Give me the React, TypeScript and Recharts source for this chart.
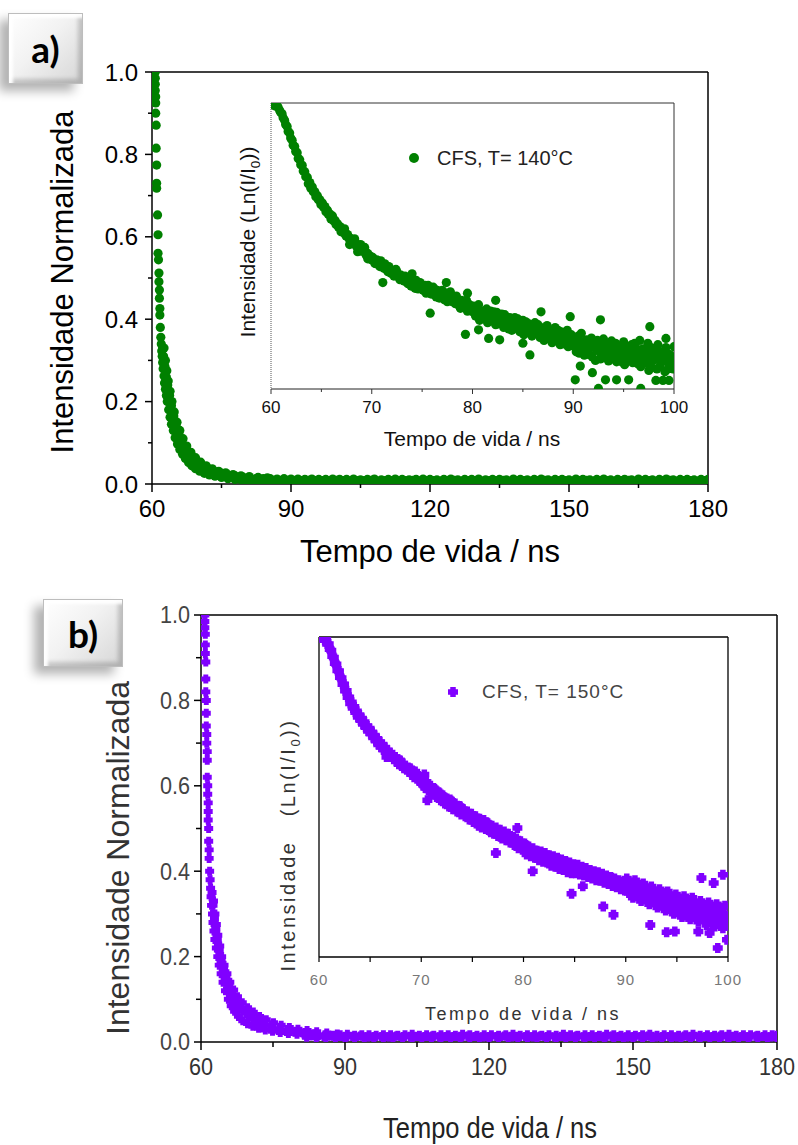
import { ScatterChart, Scatter, XAxis, YAxis, ReferenceLine } from 'recharts';

const GREEN = '#008000';
const VIOLET = '#8000ff';
const SANS = "'Liberation Sans', Arial, Helvetica, sans-serif";

// axis ticks
const mainTicksX = [60, 75, 90, 105, 120, 135, 150, 165, 180];
const mainMajorX = [60, 90, 120, 150, 180];
const mainTicksY = [0, 0.1, 0.2, 0.3, 0.4, 0.5, 0.6, 0.7, 0.8, 0.9, 1.0];
const mainMajorY = [0, 0.2, 0.4, 0.6, 0.8, 1.0];
const insetTicksX = [60, 65, 70, 75, 80, 85, 90, 95, 100];
const insetMajorX = [60, 70, 80, 90, 100];

// ---- a) CFS 140 °C, main plot (time ns, normalised intensity) ----
const mainADecay: [number, number][] = [
  [60.7, 1.0], [60.7, 0.985], [60.7, 0.97], [60.7, 0.955], [60.8, 0.94], [60.8, 0.925], [60.8, 0.9],
  [60.9, 0.871], [60.9, 0.815], [61.0, 0.774], [61.0, 0.73], [61.0, 0.718], [61.2, 0.653], [61.3, 0.605],
  [61.3, 0.56], [61.4, 0.544], [61.5, 0.512], [61.5, 0.491], [61.6, 0.471], [61.6, 0.451], [61.7, 0.426],
  [61.7, 0.41], [61.8, 0.38], [61.9, 0.356], [62.0, 0.34], [62.1, 0.323], [62.2, 0.31], [62.3, 0.295],
  [62.4, 0.28], [62.6, 0.262], [62.7, 0.245], [62.9, 0.23], [63.1, 0.215], [63.3, 0.2], [63.6, 0.18],
  [63.9, 0.162], [64.2, 0.145], [64.6, 0.13], [65.0, 0.112], [65.5, 0.097], [66.0, 0.084], [66.6, 0.072],
  [67.2, 0.062], [67.9, 0.052], [68.6, 0.044], [69.4, 0.037], [70.3, 0.031], [71.3, 0.026], [72.4, 0.022],
  [73.6, 0.019], [75.0, 0.016], [76.4, 0.013], [77.9, 0.011],
];
const mainAMiddle: [number, number][] = [
  [62.3, 0.33], [62.5, 0.31], [62.8, 0.285], [63.1, 0.26], [63.4, 0.24], [63.8, 0.215], [64.2, 0.19],
  [64.7, 0.165], [65.2, 0.142], [65.8, 0.122], [66.4, 0.104], [67.1, 0.088], [67.9, 0.074], [68.8, 0.062],
  [69.8, 0.052], [70.9, 0.044], [72.1, 0.037], [73.4, 0.031], [74.8, 0.027], [76.3, 0.023], [77.9, 0.02],
  [79.6, 0.017],
];
const mainAOuter: [number, number][] = [
  [62.6, 0.33], [62.9, 0.3], [63.2, 0.275], [63.5, 0.25], [63.9, 0.225], [64.3, 0.2], [64.8, 0.175],
  [65.4, 0.15], [66.0, 0.13], [66.7, 0.11], [67.5, 0.092], [68.4, 0.077], [69.4, 0.064], [70.5, 0.053],
  [71.7, 0.044], [73.0, 0.037], [74.4, 0.031], [75.9, 0.027], [77.5, 0.023], [79.2, 0.02], [81.0, 0.018],
  [82.9, 0.016], [84.9, 0.015],
];
const mainATailHigh: [number, number][] = [
  [78, 0.016], [79.5, 0.015], [81, 0.014], [82.5, 0.014], [84, 0.013], [85.5, 0.013], [87, 0.012],
  [88.5, 0.013], [90, 0.012], [91.5, 0.012], [93, 0.011], [94.5, 0.012], [96, 0.011], [97.5, 0.011],
  [99, 0.012], [100.5, 0.011], [102, 0.011], [103.5, 0.012], [105, 0.01], [106.5, 0.011], [108, 0.012],
  [109.5, 0.01], [111, 0.011], [112.5, 0.012], [114, 0.011], [115.5, 0.01], [117, 0.011], [118.5, 0.012],
  [120, 0.011], [121.5, 0.01], [123, 0.011], [124.5, 0.012], [126, 0.01], [127.5, 0.011], [129, 0.011],
  [130.5, 0.012], [132, 0.01], [133.5, 0.011], [135, 0.011], [136.5, 0.01], [138, 0.012], [139.5, 0.011],
  [141, 0.01], [142.5, 0.011], [144, 0.012], [145.5, 0.01], [147, 0.011], [148.5, 0.011], [150, 0.01],
  [151.5, 0.012], [153, 0.011], [154.5, 0.01], [156, 0.011], [157.5, 0.012], [159, 0.01], [160.5, 0.011],
  [162, 0.011], [163.5, 0.01], [165, 0.012], [166.5, 0.011], [168, 0.01], [169.5, 0.011], [171, 0.012],
  [172.5, 0.01], [174, 0.011], [175.5, 0.011], [177, 0.01], [178.5, 0.011], [180, 0.011],
];
const mainATailMid: [number, number][] = [
  [78.8, 0.012], [80.3, 0.011], [81.8, 0.01], [83.3, 0.009], [84.8, 0.009], [86.3, 0.009], [87.8, 0.008],
  [89.3, 0.009], [90.8, 0.008], [92.3, 0.008], [93.8, 0.009], [95.3, 0.008], [96.8, 0.008], [98.3, 0.008],
  [99.8, 0.009], [101.3, 0.008], [102.8, 0.007], [104.3, 0.008], [105.8, 0.008], [107.3, 0.009],
  [108.8, 0.007], [110.3, 0.008], [111.8, 0.008], [113.3, 0.007], [114.8, 0.008], [116.3, 0.009],
  [117.8, 0.007], [119.3, 0.008], [120.8, 0.008], [122.3, 0.007], [123.8, 0.008], [125.3, 0.009],
  [126.8, 0.007], [128.3, 0.008], [129.8, 0.008], [131.3, 0.007], [132.8, 0.008], [134.3, 0.008],
  [135.8, 0.009], [137.3, 0.007], [138.8, 0.008], [140.3, 0.008], [141.8, 0.007], [143.3, 0.008],
  [144.8, 0.009], [146.3, 0.007], [147.8, 0.008], [149.3, 0.008], [150.8, 0.007], [152.3, 0.008],
  [153.8, 0.009], [155.3, 0.007], [156.8, 0.008], [158.3, 0.008], [159.8, 0.007], [161.3, 0.008],
  [162.8, 0.009], [164.3, 0.007], [165.8, 0.008], [167.3, 0.008], [168.8, 0.007], [170.3, 0.008],
  [171.8, 0.009], [173.3, 0.007], [174.8, 0.008], [176.3, 0.008], [177.8, 0.007], [179.3, 0.008],
];
const mainATailLow: [number, number][] = [
  [79.5, 0.009], [81, 0.008], [82.5, 0.007], [84, 0.006], [85.5, 0.006], [87, 0.005], [88.5, 0.005],
  [90, 0.005], [92, 0.004], [94, 0.005], [96, 0.004], [98, 0.005], [100, 0.004], [102, 0.005], [104, 0.004],
  [106, 0.004], [108, 0.005], [110, 0.004], [112, 0.005], [114, 0.004], [116, 0.004], [118, 0.005],
  [120, 0.004], [122, 0.005], [124, 0.004], [126, 0.004], [128, 0.005], [130, 0.004], [132, 0.005],
  [134, 0.004], [136, 0.004], [138, 0.005], [140, 0.004], [142, 0.005], [144, 0.004], [146, 0.004],
  [148, 0.005], [150, 0.004], [152, 0.005], [154, 0.004], [156, 0.004], [158, 0.005], [160, 0.004],
  [162, 0.005], [164, 0.004], [166, 0.004], [168, 0.005], [170, 0.004], [172, 0.005], [174, 0.004],
  [176, 0.004], [178, 0.005], [180, 0.004],
];

// ---- a) inset, 60–100 ns (log intensity, arbitrary units) ----
const insetAEarly: [number, number][] = [
  [60.2, 1.0], [60.45, 0.995], [60.7, 0.985], [60.95, 0.968], [61.2, 0.948], [61.45, 0.925], [61.7, 0.9],
  [61.95, 0.878], [62.2, 0.852], [62.45, 0.83], [62.7, 0.806], [62.95, 0.784], [63.2, 0.762], [63.45, 0.742],
  [63.7, 0.718], [63.95, 0.702], [64.2, 0.69], [64.45, 0.672], [64.7, 0.662], [64.95, 0.645], [65.2, 0.636],
  [65.45, 0.62], [65.7, 0.61], [65.95, 0.594], [66.2, 0.588], [66.45, 0.575], [66.7, 0.566], [66.95, 0.55],
  [67.2, 0.546], [67.45, 0.535], [67.7, 0.528], [67.95, 0.514], [68.2, 0.512], [68.45, 0.5], [68.7, 0.496],
  [68.95, 0.482], [69.2, 0.484], [69.45, 0.468], [69.7, 0.466], [69.95, 0.452], [66.1, 0.605], [67.3, 0.56],
  [68.3, 0.525], [68.6, 0.48], [69.3, 0.495], [69.6, 0.455], [68.9, 0.505], [67.8, 0.505],
];
const insetAEarly2: [number, number][] = [
  [60.35, 0.99], [60.6, 0.99], [60.85, 0.975], [61.1, 0.962], [61.35, 0.94], [61.6, 0.918], [61.85, 0.895],
  [62.1, 0.87], [62.35, 0.848], [62.6, 0.826], [62.85, 0.802], [63.1, 0.782], [63.35, 0.76], [63.6, 0.74],
  [63.85, 0.722], [64.1, 0.706], [64.35, 0.69], [64.6, 0.676], [64.85, 0.662], [65.1, 0.65], [65.35, 0.638],
  [65.6, 0.625], [65.85, 0.612], [66.1, 0.598], [66.35, 0.59], [66.6, 0.578], [66.85, 0.568], [67.1, 0.558],
  [67.35, 0.548], [67.6, 0.54], [67.85, 0.528], [68.1, 0.52], [68.35, 0.512], [68.6, 0.505], [68.85, 0.494],
  [69.1, 0.49], [69.35, 0.478], [69.6, 0.474], [69.85, 0.465],
];
const insetAMid: [number, number][] = [
  [70.1, 0.46], [70.3, 0.44], [70.5, 0.452], [70.7, 0.435], [70.9, 0.448], [71.1, 0.43], [71.3, 0.438],
  [71.5, 0.418], [71.7, 0.428], [71.9, 0.405], [72.1, 0.415], [72.3, 0.4], [72.5, 0.41], [72.7, 0.39],
  [72.9, 0.398], [73.1, 0.385], [73.3, 0.395], [73.5, 0.372], [73.7, 0.385], [73.9, 0.36], [74.1, 0.378],
  [74.3, 0.352], [74.5, 0.372], [74.7, 0.355], [74.9, 0.365], [75.1, 0.345], [75.3, 0.362], [75.5, 0.34],
  [75.7, 0.35], [75.9, 0.332], [76.1, 0.356], [76.3, 0.328], [76.5, 0.345], [76.7, 0.318], [76.9, 0.338],
  [77.1, 0.322], [77.3, 0.335], [77.5, 0.305], [77.7, 0.33], [77.9, 0.31], [78.1, 0.322], [78.3, 0.298],
  [78.5, 0.315], [78.7, 0.29], [78.9, 0.31], [79.1, 0.285], [79.3, 0.3], [79.5, 0.272], [79.7, 0.295],
  [79.9, 0.28],
];
const insetALate: [number, number][] = [
  [80.1, 0.29], [80.3, 0.255], [80.5, 0.28], [80.7, 0.24], [80.9, 0.272], [81.1, 0.25], [81.3, 0.265],
  [81.5, 0.232], [81.7, 0.26], [81.9, 0.238], [82.1, 0.27], [82.3, 0.225], [82.5, 0.252], [82.7, 0.23],
  [82.9, 0.262], [83.1, 0.215], [83.3, 0.245], [83.5, 0.222], [83.7, 0.25], [83.9, 0.205], [84.1, 0.238],
  [84.3, 0.212], [84.5, 0.245], [84.7, 0.2], [84.9, 0.228], [85.1, 0.19], [85.3, 0.235], [85.5, 0.205],
  [85.7, 0.222], [85.9, 0.185], [86.1, 0.215], [86.3, 0.195], [86.5, 0.225], [86.7, 0.18], [86.9, 0.205],
  [87.1, 0.17], [87.3, 0.21], [87.5, 0.185], [87.7, 0.2], [87.9, 0.162], [88.1, 0.195], [88.3, 0.172],
  [88.5, 0.205], [88.7, 0.155], [88.9, 0.185], [89.1, 0.165], [89.3, 0.19], [89.5, 0.148], [89.7, 0.178],
  [89.9, 0.158], [90.1, 0.17], [90.3, 0.13], [90.5, 0.185], [90.7, 0.145], [90.9, 0.165], [91.1, 0.118],
  [91.3, 0.172], [91.5, 0.14], [91.7, 0.158], [91.9, 0.112], [92.1, 0.165], [92.3, 0.135], [92.5, 0.152],
  [92.7, 0.105], [92.9, 0.16], [93.1, 0.125], [93.3, 0.145], [93.5, 0.098], [93.7, 0.155], [93.9, 0.12],
  [94.1, 0.14], [94.3, 0.095], [94.5, 0.15], [94.7, 0.115], [94.9, 0.135], [95.1, 0.085], [95.3, 0.148],
  [95.5, 0.112], [95.7, 0.13], [95.9, 0.092], [96.1, 0.16], [96.3, 0.105], [96.5, 0.135], [96.7, 0.078],
  [96.9, 0.14], [97.1, 0.1], [97.3, 0.125], [97.5, 0.065], [97.7, 0.145], [97.9, 0.1], [98.1, 0.12],
  [98.3, 0.07], [98.5, 0.13], [98.7, 0.092], [98.9, 0.115], [99.1, 0.06], [99.3, 0.125], [99.5, 0.085],
  [99.7, 0.105], [99.9, 0.07],
];
const insetAFill: [number, number][] = [
  [70.0, 0.455], [70.2, 0.448], [70.4, 0.438], [70.6, 0.445], [70.8, 0.428], [71.0, 0.44], [71.2, 0.422],
  [71.4, 0.43], [71.6, 0.41], [71.8, 0.42], [72.0, 0.41], [72.2, 0.395], [72.4, 0.418], [72.6, 0.4],
  [72.8, 0.382], [73.0, 0.392], [73.2, 0.378], [73.4, 0.386], [73.6, 0.368], [73.8, 0.39], [74.0, 0.37],
  [74.2, 0.362], [74.4, 0.38], [74.6, 0.35], [74.8, 0.372], [75.0, 0.358], [75.2, 0.35], [75.4, 0.335],
  [75.6, 0.362], [75.8, 0.345], [76.0, 0.34], [76.2, 0.35], [76.4, 0.322], [76.6, 0.338], [76.8, 0.33],
  [77.0, 0.345], [77.2, 0.312], [77.4, 0.325], [77.6, 0.318], [77.8, 0.34], [78.0, 0.305], [78.2, 0.31],
  [78.4, 0.325], [78.6, 0.3], [78.8, 0.282], [79.0, 0.305], [79.2, 0.295], [79.4, 0.31], [79.6, 0.278],
  [79.8, 0.29], [80.0, 0.27], [80.2, 0.285], [80.4, 0.262], [80.6, 0.295], [80.8, 0.258], [81.0, 0.268],
  [81.2, 0.245], [81.4, 0.28], [81.6, 0.25], [81.8, 0.272], [82.0, 0.24], [82.2, 0.258], [82.4, 0.268],
  [82.6, 0.228], [82.8, 0.245], [83.0, 0.236], [83.2, 0.26], [83.4, 0.232], [83.6, 0.21], [83.8, 0.235],
  [84.0, 0.225], [84.2, 0.25], [84.4, 0.218], [84.6, 0.232], [84.8, 0.208], [85.0, 0.24], [85.2, 0.215],
  [85.4, 0.198], [85.6, 0.228], [85.8, 0.21], [86.0, 0.195], [86.2, 0.232], [86.4, 0.205], [86.6, 0.19],
  [86.8, 0.215], [87.0, 0.2], [87.2, 0.178], [87.4, 0.222], [87.6, 0.195], [87.8, 0.175], [88.0, 0.19],
  [88.2, 0.215], [88.4, 0.168], [88.6, 0.185], [88.8, 0.2], [89.0, 0.158], [89.2, 0.18], [89.4, 0.205],
  [89.6, 0.165], [89.8, 0.19], [90.0, 0.15], [90.2, 0.178], [90.4, 0.16], [90.6, 0.125], [90.8, 0.195],
  [91.0, 0.15], [91.2, 0.135], [91.4, 0.165], [91.6, 0.12], [91.8, 0.178], [92.0, 0.148], [92.2, 0.1],
  [92.4, 0.17], [92.6, 0.138], [92.8, 0.12], [93.0, 0.175], [93.2, 0.11], [93.4, 0.155], [93.6, 0.13],
  [93.8, 0.168], [94.0, 0.105], [94.2, 0.16], [94.4, 0.125], [94.6, 0.14], [94.8, 0.095], [95.0, 0.165],
  [95.2, 0.12], [95.4, 0.138], [95.6, 0.1], [95.8, 0.155], [96.0, 0.118], [96.2, 0.145], [96.4, 0.088],
  [96.6, 0.17], [96.8, 0.112], [97.0, 0.132], [97.2, 0.09], [97.4, 0.16], [97.6, 0.118], [97.8, 0.075],
  [98.0, 0.14], [98.2, 0.105], [98.4, 0.155], [98.6, 0.08], [98.8, 0.13], [99.0, 0.1], [99.2, 0.145],
  [99.4, 0.07], [99.6, 0.12], [99.8, 0.09],
];
const insetAOutliers: [number, number][] = [
  [71.1, 0.372], [74.0, 0.403], [75.8, 0.265], [77.4, 0.372], [79.3, 0.191], [79.5, 0.335], [80.6, 0.207],
  [81.6, 0.177], [82.3, 0.31], [82.7, 0.172], [85.0, 0.16], [85.7, 0.119], [86.8, 0.27], [89.7, 0.253],
  [90.2, 0.032], [90.7, 0.08], [91.9, 0.057], [92.5, 0.002], [92.7, 0.242], [93.2, 0.032], [94.3, 0.032],
  [95.5, 0.032], [96.7, 0.002], [97.6, 0.218], [98.2, 0.03], [98.9, 0.03], [99.2, 0.177], [99.5, 0.03],
  [100, 0.148],
];

// ---- b) CFS 150 °C, main plot ----
const mainBDecay: [number, number][] = [
  [60.8, 1.0], [60.8, 0.985], [60.8, 0.97], [60.9, 0.955], [60.9, 0.93], [60.9, 0.91], [61.0, 0.89],
  [61.0, 0.85], [61.0, 0.82], [61.1, 0.8], [61.1, 0.77], [61.1, 0.74], [61.2, 0.72], [61.2, 0.7],
  [61.3, 0.68], [61.3, 0.66], [61.3, 0.62], [61.4, 0.6], [61.4, 0.58], [61.5, 0.56], [61.5, 0.54],
  [61.5, 0.52], [61.6, 0.5], [61.6, 0.47], [61.7, 0.45], [61.7, 0.43], [61.8, 0.4], [61.9, 0.38],
  [62.0, 0.36], [62.1, 0.34], [62.2, 0.32], [62.4, 0.3], [62.5, 0.28], [62.7, 0.26], [62.9, 0.24],
  [63.2, 0.22], [63.5, 0.2], [63.8, 0.18], [64.2, 0.16], [64.6, 0.14], [65.1, 0.12], [65.7, 0.1],
  [66.3, 0.085], [67.0, 0.072], [67.8, 0.06], [68.7, 0.05], [69.7, 0.043], [70.8, 0.037], [72.0, 0.032],
  [73.4, 0.028], [74.9, 0.025], [76.5, 0.022], [78.2, 0.02], [80.0, 0.018],
];
const mainBMiddle: [number, number][] = [
  [62.3, 0.35], [62.5, 0.32], [62.8, 0.29], [63.1, 0.265], [63.4, 0.24], [63.8, 0.215], [64.2, 0.19],
  [64.7, 0.17], [65.2, 0.15], [65.8, 0.13], [66.4, 0.113], [67.1, 0.098], [67.9, 0.084], [68.8, 0.072],
  [69.8, 0.062], [70.9, 0.053], [72.1, 0.046], [73.4, 0.04], [74.8, 0.035], [76.3, 0.031], [77.9, 0.027],
  [79.6, 0.024], [81.4, 0.021], [83.3, 0.019],
];
const mainBOuter: [number, number][] = [
  [62.6, 0.33], [62.9, 0.3], [63.2, 0.275], [63.5, 0.25], [63.9, 0.225], [64.3, 0.2], [64.8, 0.18],
  [65.4, 0.16], [66.0, 0.14], [66.8, 0.122], [67.6, 0.106], [68.6, 0.092], [69.7, 0.08], [70.9, 0.07],
  [72.2, 0.06], [73.6, 0.052], [75.1, 0.045], [76.7, 0.039], [78.4, 0.034], [80.2, 0.03], [82.1, 0.027],
  [84.1, 0.024], [86.2, 0.021], [88.4, 0.019],
];
const mainBTailHigh: [number, number][] = [
  [81.5, 0.017], [83, 0.017], [84.5, 0.016], [86, 0.017], [87.5, 0.016], [89, 0.017], [90.5, 0.018],
  [92, 0.016], [93.5, 0.017], [95, 0.017], [96.5, 0.016], [98, 0.017], [99.5, 0.017], [101, 0.016],
  [102.5, 0.017], [104, 0.018], [105.5, 0.016], [107, 0.017], [108.5, 0.016], [110, 0.017], [111.5, 0.017],
  [113, 0.016], [114.5, 0.018], [116, 0.017], [117.5, 0.016], [119, 0.017], [120.5, 0.017], [122, 0.016],
  [123.5, 0.017], [125, 0.018], [126.5, 0.016], [128, 0.017], [129.5, 0.017], [131, 0.016], [132.5, 0.017],
  [134, 0.016], [135.5, 0.018], [137, 0.017], [138.5, 0.016], [140, 0.017], [141.5, 0.017], [143, 0.016],
  [144.5, 0.018], [146, 0.017], [147.5, 0.016], [149, 0.017], [150.5, 0.016], [152, 0.017], [153.5, 0.018],
  [155, 0.016], [156.5, 0.017], [158, 0.017], [159.5, 0.016], [161, 0.017], [162.5, 0.018], [164, 0.016],
  [165.5, 0.017], [167, 0.016], [168.5, 0.017], [170, 0.018], [171.5, 0.016], [173, 0.017], [174.5, 0.017],
  [176, 0.016], [177.5, 0.017], [179, 0.017], [180, 0.016],
];
const mainBTailMid: [number, number][] = [
  [82.7, 0.014], [84.2, 0.013], [85.7, 0.013], [87.2, 0.014], [88.7, 0.013], [90.2, 0.012], [91.7, 0.013],
  [93.2, 0.014], [94.7, 0.012], [96.2, 0.013], [97.7, 0.013], [99.2, 0.012], [100.7, 0.014], [102.2, 0.013],
  [103.7, 0.012], [105.2, 0.013], [106.7, 0.013], [108.2, 0.014], [109.7, 0.012], [111.2, 0.013],
  [112.7, 0.013], [114.2, 0.012], [115.7, 0.014], [117.2, 0.013], [118.7, 0.012], [120.2, 0.013],
  [121.7, 0.013], [123.2, 0.014], [124.7, 0.012], [126.2, 0.013], [127.7, 0.013], [129.2, 0.012],
  [130.7, 0.014], [132.2, 0.013], [133.7, 0.012], [135.2, 0.013], [136.7, 0.013], [138.2, 0.014],
  [139.7, 0.012], [141.2, 0.013], [142.7, 0.013], [144.2, 0.012], [145.7, 0.014], [147.2, 0.013],
  [148.7, 0.012], [150.2, 0.013], [151.7, 0.013], [153.2, 0.014], [154.7, 0.012], [156.2, 0.013],
  [157.7, 0.013], [159.2, 0.012], [160.7, 0.014], [162.2, 0.013], [163.7, 0.012], [165.2, 0.013],
  [166.7, 0.013], [168.2, 0.014], [169.7, 0.012], [171.2, 0.013], [172.7, 0.013], [174.2, 0.012],
  [175.7, 0.014], [177.2, 0.013], [178.7, 0.012], [179.8, 0.013],
];
const mainBTailLow: [number, number][] = [
  [82, 0.011], [84, 0.01], [86, 0.009], [88, 0.009], [90, 0.008], [92, 0.008], [94, 0.009], [96, 0.008],
  [98, 0.008], [100, 0.009], [102, 0.008], [104, 0.008], [106, 0.009], [108, 0.008], [110, 0.008],
  [112, 0.009], [114, 0.008], [116, 0.008], [118, 0.009], [120, 0.008], [122, 0.008], [124, 0.009],
  [126, 0.008], [128, 0.008], [130, 0.009], [132, 0.008], [134, 0.008], [136, 0.009], [138, 0.008],
  [140, 0.008], [142, 0.009], [144, 0.008], [146, 0.008], [148, 0.009], [150, 0.008], [152, 0.008],
  [154, 0.009], [156, 0.008], [158, 0.008], [160, 0.009], [162, 0.008], [164, 0.008], [166, 0.009],
  [168, 0.008], [170, 0.008], [172, 0.009], [174, 0.008], [176, 0.008], [178, 0.009], [180, 0.008],
];

// ---- b) inset, 60–100 ns ----
const insetBEarly: [number, number][] = [
  [60.3, 0.998], [60.55, 0.99], [60.8, 0.978], [61.05, 0.962], [61.3, 0.94], [61.55, 0.918], [61.8, 0.895],
  [62.05, 0.874], [62.3, 0.852], [62.55, 0.832], [62.8, 0.812], [63.05, 0.792], [63.3, 0.778], [63.55, 0.765],
  [63.8, 0.75], [64.05, 0.74], [64.3, 0.728], [64.55, 0.718], [64.8, 0.706], [65.05, 0.698], [65.3, 0.686],
  [65.55, 0.676], [65.8, 0.664], [66.05, 0.656], [66.3, 0.648], [66.55, 0.64], [66.8, 0.63], [67.05, 0.626],
  [67.3, 0.618], [67.55, 0.612], [67.8, 0.602], [68.05, 0.6], [68.3, 0.59], [68.55, 0.588], [68.8, 0.578],
  [69.05, 0.574], [69.3, 0.562], [69.55, 0.568], [69.8, 0.55], [66.6, 0.625], [67.9, 0.615], [68.9, 0.59],
  [69.4, 0.58],
];
const insetBEarly2: [number, number][] = [
  [60.45, 1.0], [60.7, 0.992], [60.95, 0.978], [61.2, 0.958], [61.45, 0.936], [61.7, 0.915], [61.95, 0.894],
  [62.2, 0.872], [62.45, 0.852], [62.7, 0.832], [62.95, 0.812], [63.2, 0.796], [63.45, 0.782], [63.7, 0.768],
  [63.95, 0.756], [64.2, 0.745], [64.45, 0.734], [64.7, 0.722], [64.95, 0.714], [65.2, 0.702], [65.45, 0.692],
  [65.7, 0.682], [65.95, 0.672], [66.2, 0.664], [66.45, 0.655], [66.7, 0.646], [66.95, 0.638], [67.2, 0.632],
  [67.45, 0.625], [67.7, 0.618], [67.95, 0.612], [68.2, 0.605], [68.45, 0.598], [68.7, 0.592], [68.95, 0.586],
  [69.2, 0.58], [69.45, 0.572], [69.7, 0.566], [69.95, 0.558],
];
const insetBMid: [number, number][] = [
  [70.1, 0.55], [70.3, 0.535], [70.5, 0.548], [70.7, 0.52], [70.9, 0.535], [71.1, 0.512], [71.3, 0.525],
  [71.5, 0.5], [71.7, 0.515], [71.9, 0.49], [72.1, 0.505], [72.3, 0.48], [72.5, 0.495], [72.7, 0.47],
  [72.9, 0.488], [73.1, 0.462], [73.3, 0.48], [73.5, 0.455], [73.7, 0.472], [73.9, 0.445], [74.1, 0.462],
  [74.3, 0.44], [74.5, 0.455], [74.7, 0.43], [74.9, 0.448], [75.1, 0.422], [75.3, 0.44], [75.5, 0.418],
  [75.7, 0.432], [75.9, 0.405], [76.1, 0.428], [76.3, 0.4], [76.5, 0.418], [76.7, 0.395], [76.9, 0.41],
  [77.1, 0.385], [77.3, 0.405], [77.5, 0.378], [77.7, 0.398], [77.9, 0.37], [78.1, 0.392], [78.3, 0.365],
  [78.5, 0.385], [78.7, 0.358], [78.9, 0.375], [79.1, 0.35], [79.3, 0.37], [79.5, 0.34], [79.7, 0.362],
  [79.9, 0.335],
];
const insetBLate: [number, number][] = [
  [80.1, 0.355], [80.3, 0.32], [80.5, 0.345], [80.7, 0.315], [80.9, 0.34], [81.1, 0.31], [81.3, 0.332],
  [81.5, 0.302], [81.7, 0.33], [81.9, 0.298], [82.1, 0.325], [82.3, 0.295], [82.5, 0.318], [82.7, 0.285],
  [82.9, 0.315], [83.1, 0.282], [83.3, 0.31], [83.5, 0.275], [83.7, 0.305], [83.9, 0.272], [84.1, 0.3],
  [84.3, 0.265], [84.5, 0.295], [84.7, 0.262], [84.9, 0.29], [85.1, 0.262], [85.3, 0.288], [85.5, 0.258],
  [85.7, 0.282], [85.9, 0.255], [86.1, 0.278], [86.3, 0.25], [86.5, 0.272], [86.7, 0.245], [86.9, 0.268],
  [87.1, 0.24], [87.3, 0.265], [87.5, 0.238], [87.7, 0.26], [87.9, 0.232], [88.1, 0.255], [88.3, 0.228],
  [88.5, 0.25], [88.7, 0.222], [88.9, 0.245], [89.1, 0.218], [89.3, 0.24], [89.5, 0.212], [89.7, 0.235],
  [89.9, 0.208], [90.1, 0.245], [90.3, 0.2], [90.5, 0.232], [90.7, 0.185], [90.9, 0.24], [91.1, 0.19],
  [91.3, 0.225], [91.5, 0.175], [91.7, 0.23], [91.9, 0.18], [92.1, 0.215], [92.3, 0.165], [92.5, 0.22],
  [92.7, 0.17], [92.9, 0.205], [93.1, 0.155], [93.3, 0.212], [93.5, 0.16], [93.7, 0.2], [93.9, 0.145],
  [94.1, 0.205], [94.3, 0.15], [94.5, 0.19], [94.7, 0.135], [94.9, 0.195], [95.1, 0.14], [95.3, 0.18],
  [95.5, 0.125], [95.7, 0.19], [95.9, 0.13], [96.1, 0.175], [96.3, 0.118], [96.5, 0.185], [96.7, 0.125],
  [96.9, 0.165], [97.1, 0.11], [97.3, 0.175], [97.5, 0.12], [97.7, 0.16], [97.9, 0.1], [98.1, 0.17],
  [98.3, 0.112], [98.5, 0.155], [98.7, 0.095], [98.9, 0.165], [99.1, 0.105], [99.3, 0.15], [99.5, 0.09],
  [99.7, 0.16], [99.9, 0.1],
];
const insetBFill: [number, number][] = [
  [70.0, 0.545], [70.2, 0.538], [70.4, 0.528], [70.6, 0.54], [70.8, 0.522], [71.0, 0.515], [71.2, 0.528],
  [71.4, 0.508], [71.6, 0.505], [71.8, 0.512], [72.0, 0.492], [72.2, 0.5], [72.4, 0.488], [72.6, 0.48],
  [72.8, 0.492], [73.0, 0.47], [73.2, 0.476], [73.4, 0.465], [73.6, 0.46], [73.8, 0.47], [74.0, 0.448],
  [74.2, 0.455], [74.4, 0.445], [74.6, 0.442], [74.8, 0.435], [75.0, 0.438], [75.2, 0.428], [75.4, 0.432],
  [75.6, 0.41], [75.8, 0.425], [76.0, 0.415], [76.2, 0.41], [76.4, 0.42], [76.6, 0.402], [76.8, 0.39],
  [77.0, 0.4], [77.2, 0.392], [77.4, 0.385], [77.6, 0.395], [77.8, 0.375], [78.0, 0.385], [78.2, 0.372],
  [78.4, 0.378], [78.6, 0.368], [78.8, 0.36], [79.0, 0.372], [79.2, 0.355], [79.4, 0.348], [79.6, 0.358],
  [79.8, 0.345], [80.0, 0.342], [80.2, 0.35], [80.4, 0.33], [80.6, 0.335], [80.8, 0.322], [81.0, 0.33],
  [81.2, 0.312], [81.4, 0.325], [81.6, 0.318], [81.8, 0.305], [82.0, 0.315], [82.2, 0.308], [82.4, 0.3],
  [82.6, 0.312], [82.8, 0.295], [83.0, 0.3], [83.2, 0.292], [83.4, 0.305], [83.6, 0.285], [83.8, 0.29],
  [84.0, 0.282], [84.2, 0.295], [84.4, 0.278], [84.6, 0.285], [84.8, 0.27], [85.0, 0.282], [85.2, 0.268],
  [85.4, 0.275], [85.6, 0.262], [85.8, 0.272], [86.0, 0.265], [86.2, 0.258], [86.4, 0.27], [86.6, 0.252],
  [86.8, 0.26], [87.0, 0.25], [87.2, 0.262], [87.4, 0.245], [87.6, 0.252], [87.8, 0.24], [88.0, 0.25],
  [88.2, 0.242], [88.4, 0.235], [88.6, 0.248], [88.8, 0.23], [89.0, 0.238], [89.2, 0.225], [89.4, 0.232],
  [89.6, 0.22], [89.8, 0.228], [90.0, 0.222], [90.2, 0.235], [90.4, 0.21], [90.6, 0.225], [90.8, 0.2],
  [91.0, 0.218], [91.2, 0.205], [91.4, 0.21], [91.6, 0.195], [91.8, 0.215], [92.0, 0.2], [92.2, 0.19],
  [92.4, 0.208], [92.6, 0.185], [92.8, 0.195], [93.0, 0.18], [93.2, 0.192], [93.4, 0.175], [93.6, 0.185],
  [93.8, 0.17], [94.0, 0.182], [94.2, 0.165], [94.4, 0.178], [94.6, 0.16], [94.8, 0.172], [95.0, 0.155],
  [95.2, 0.168], [95.4, 0.15], [95.6, 0.162], [95.8, 0.145], [96.0, 0.165], [96.2, 0.14], [96.4, 0.158],
  [96.6, 0.135], [96.8, 0.152], [97.0, 0.14], [97.2, 0.155], [97.4, 0.13], [97.6, 0.148], [97.8, 0.125],
  [98.0, 0.145], [98.2, 0.132], [98.4, 0.14], [98.6, 0.12], [98.8, 0.138], [99.0, 0.125], [99.2, 0.142],
  [99.4, 0.115], [99.6, 0.135], [99.8, 0.12],
];
const insetBOutliers: [number, number][] = [
  [70.3, 0.57], [70.6, 0.49], [77.3, 0.325], [79.4, 0.403], [80.9, 0.268], [84.7, 0.198], [85.8, 0.221],
  [87.8, 0.158], [88.8, 0.132], [92.4, 0.1], [94.0, 0.077], [94.8, 0.08], [97.1, 0.08], [97.4, 0.247],
  [98.2, 0.075], [98.6, 0.231], [99.0, 0.028], [99.5, 0.257], [99.9, 0.054],
];

const pts = (...groups: [number, number][][]) =>
  groups.flat().map(([x, y]) => ({ x, y }));

// ---- tick renderers (tickSize/tickMargin = 0, so x/y is the axis position) ----
interface TickStyle {
  fontSize: number;
  color: string;
  gap: number;
  major: number;
  minor: number;
  stroke: string;
  strokeWidth: number;
  scaleX?: number;
  letterSpacing?: number;
}

const xTick = (majors: number[], s: TickStyle) => (props: any) => {
  const { x, y, payload } = props;
  const v = payload.value as number;
  const isMajor = majors.includes(v);
  return (
    <g>
      <line x1={x} x2={x} y1={y} y2={y + (isMajor ? s.major : s.minor)} stroke={s.stroke} strokeWidth={s.strokeWidth} />
      {isMajor && (
        <text
          transform={`translate(${x},${y + s.gap}) scale(${s.scaleX ?? 1},1)`}
          textAnchor="middle"
          dominantBaseline="central"
          fontSize={s.fontSize}
          fontFamily={SANS}
          fill={s.color}
          letterSpacing={s.letterSpacing ?? 0}
        >
          {v}
        </text>
      )}
    </g>
  );
};

const yTick = (majors: number[], s: TickStyle) => (props: any) => {
  const { x, y, payload } = props;
  const v = payload.value as number;
  const isMajor = majors.includes(v);
  return (
    <g>
      <line x1={x - (isMajor ? s.major : s.minor)} x2={x} y1={y} y2={y} stroke={s.stroke} strokeWidth={s.strokeWidth} />
      {isMajor && (
        <text
          transform={`translate(${x - s.gap},${y}) scale(${s.scaleX ?? 1},1)`}
          textAnchor="end"
          dominantBaseline="central"
          fontSize={s.fontSize}
          fontFamily={SANS}
          fill={s.color}
        >
          {v.toFixed(1)}
        </text>
      )}
    </g>
  );
};

// ---- markers ----
const dot = (r: number, fill: string) => (p: any) => <circle cx={p.cx} cy={p.cy} r={r} fill={fill} />;

const blob = (size: number, fill: string) => (p: any) => {
  const h = size / 2;
  const a = h * 0.55;
  const { cx, cy } = p;
  const d = `M${cx - a},${cy - h}H${cx + a}V${cy - a}H${cx + h}V${cy + a}H${cx + a}V${cy + h}H${cx - a}V${cy + a}H${cx - h}V${cy - a}H${cx - a}Z`;
  return <path d={d} fill={fill} />;
};

// ---- layout helpers ----
const abs = (left: number, top: number): React.CSSProperties => ({ position: 'absolute', left, top });

const Rotated = ({ cx, cy, size, color, children, spacing = 0, pre = false }: any) => (
  <div
    style={{
      position: 'absolute',
      left: cx,
      top: cy,
      transform: 'translate(-50%, -50%) rotate(-90deg)',
      whiteSpace: pre ? 'pre' : 'nowrap',
      fontFamily: SANS,
      fontSize: size,
      color,
      letterSpacing: spacing,
      lineHeight: 1,
    }}
  >
    {children}
  </div>
);

const Flat = ({ cx, cy, size, color, children, spacing = 0, scaleX = 1 }: any) => (
  <div
    style={{
      position: 'absolute',
      left: cx,
      top: cy,
      transform: `translate(-50%, -50%) scale(${scaleX}, 1)`,
      whiteSpace: 'nowrap',
      fontFamily: SANS,
      fontSize: size,
      color,
      letterSpacing: spacing,
      lineHeight: 1,
    }}
  >
    {children}
  </div>
);

const PanelTag = ({ left, top, w, h, label }: any) => (
  <div
    style={{
      position: 'absolute',
      left,
      top,
      width: w,
      height: h,
      boxSizing: 'border-box',
      border: '1px solid #bdbdbd',
      background: 'linear-gradient(135deg, #ffffff 0%, #f2f2f2 45%, #d6d6d6 100%)',
      boxShadow:
        'inset 4px 4px 3px rgba(255,255,255,0.95), inset -4px -4px 4px rgba(0,0,0,0.18), -9px 7px 10px rgba(0,0,0,0.3)',
      display: 'flex',
      alignItems: 'center',
      justifyContent: 'center',
      fontFamily: "Lato, 'Open Sans', sans-serif",
      fontWeight: 700,
      fontSize: 37,
      color: '#000',
    }}
  >
    {label}
  </div>
);

const mainAStyleX: TickStyle = { fontSize: 24, color: '#000', gap: 24, major: 8, minor: 4, stroke: '#000', strokeWidth: 1.5 };
const mainAStyleY: TickStyle = { fontSize: 24, color: '#000', gap: 14, major: 7, minor: 4, stroke: '#000', strokeWidth: 1.5 };
const insetAStyleX: TickStyle = { fontSize: 17, color: '#111', gap: 18, major: 5, minor: 3, stroke: '#333', strokeWidth: 1 };
const mainBStyleX: TickStyle = { fontSize: 24, color: '#333', gap: 25, major: 8, minor: 5, stroke: '#000', strokeWidth: 1.5, scaleX: 0.9 };
const mainBStyleY: TickStyle = { fontSize: 24, color: '#444', gap: 11, major: 7, minor: 5, stroke: '#000', strokeWidth: 1.5, scaleX: 0.9 };
const insetBStyleX: TickStyle = { fontSize: 15, color: '#777', gap: 22, major: 5, minor: 5, stroke: '#000', strokeWidth: 1.2, letterSpacing: 1 };

export default function App() {
  return (
    <div style={{ position: 'absolute', left: 0, top: 0, width: 798, height: 1145, background: '#fff', overflow: 'hidden' }}>
      {/* ---------- panel a, main ---------- */}
      <div style={abs(0, 0)}>
        <ScatterChart width={798} height={580} margin={{ top: 72, right: 90, bottom: 66, left: 112 }}>
          <XAxis type="number" dataKey="x" domain={[60, 180]} ticks={mainTicksX} interval={0} height={30}
            tickSize={0} tickMargin={0} tickLine={false} axisLine={{ stroke: '#000', strokeWidth: 1.5 }}
            tick={xTick(mainMajorX, mainAStyleX)} allowDataOverflow />
          <YAxis type="number" dataKey="y" domain={[0, 1]} ticks={mainTicksY} interval={0} width={40}
            tickSize={0} tickMargin={0} tickLine={false} axisLine={{ stroke: '#000', strokeWidth: 1.5 }}
            tick={yTick(mainMajorY, mainAStyleY)} allowDataOverflow />
          <ReferenceLine y={1} stroke="#000" strokeWidth={1.5} />
          <ReferenceLine x={180} stroke="#000" strokeWidth={1.5} />
          <Scatter
            data={pts(mainATailLow, mainATailMid, mainATailHigh, mainAOuter, mainAMiddle, mainADecay)}
            shape={dot(4.6, GREEN)}
            isAnimationActive={false}
          />
        </ScatterChart>
      </div>

      {/* ---------- panel a, inset ---------- */}
      <div style={abs(200, 90)}>
        <ScatterChart width={500} height={340} margin={{ top: 13, right: 26, bottom: 11, left: 31 }}>
          <XAxis type="number" dataKey="x" domain={[60, 100]} ticks={insetTicksX} interval={0} height={30}
            tickSize={0} tickMargin={0} tickLine={false} axisLine={{ stroke: '#222', strokeWidth: 1 }}
            tick={xTick(insetMajorX, insetAStyleX)} allowDataOverflow />
          <YAxis type="number" dataKey="y" domain={[0, 1]} width={40} tick={false} tickLine={false}
            axisLine={{ stroke: '#555', strokeWidth: 1, strokeDasharray: '1 1' }} allowDataOverflow />
          <ReferenceLine y={1} stroke="#333" strokeWidth={1} />
          <ReferenceLine x={100} stroke="#333" strokeWidth={1} />
          <Scatter
            data={pts(insetAEarly, insetAEarly2, insetAMid, insetALate, insetAFill, insetAOutliers)}
            shape={dot(4.6, GREEN)}
            isAnimationActive={false}
          />
        </ScatterChart>
      </div>

      {/* ---------- panel b, main ---------- */}
      <div style={abs(0, 580)}>
        <ScatterChart width={798} height={565} margin={{ top: 35, right: 21, bottom: 73, left: 161 }}>
          <XAxis type="number" dataKey="x" domain={[60, 180]} ticks={mainTicksX} interval={0} height={30}
            tickSize={0} tickMargin={0} tickLine={false} axisLine={{ stroke: '#000', strokeWidth: 1.5 }}
            tick={xTick(mainMajorX, mainBStyleX)} allowDataOverflow />
          <YAxis type="number" dataKey="y" domain={[0, 1]} ticks={mainTicksY} interval={0} width={40}
            tickSize={0} tickMargin={0} tickLine={false} axisLine={{ stroke: '#000', strokeWidth: 1.5 }}
            tick={yTick(mainMajorY, mainBStyleY)} allowDataOverflow />
          <ReferenceLine y={1} stroke="#000" strokeWidth={1.5} />
          <ReferenceLine x={180} stroke="#000" strokeWidth={1.5} />
          <Scatter
            data={pts(mainBTailLow, mainBTailMid, mainBTailHigh, mainBOuter, mainBMiddle, mainBDecay)}
            shape={blob(9, VIOLET)}
            isAnimationActive={false}
          />
        </ScatterChart>
      </div>

      {/* ---------- panel b, inset ---------- */}
      <div style={abs(250, 620)}>
        <ScatterChart width={500} height={380} margin={{ top: 17, right: 22, bottom: 13, left: 29 }}>
          <XAxis type="number" dataKey="x" domain={[60, 100]} ticks={insetTicksX} interval={0} height={30}
            tickSize={0} tickMargin={0} tickLine={false} axisLine={{ stroke: '#000', strokeWidth: 1.3 }}
            tick={xTick(insetMajorX, insetBStyleX)} allowDataOverflow />
          <YAxis type="number" dataKey="y" domain={[0, 1]} width={40} tick={false} tickLine={false}
            axisLine={{ stroke: '#000', strokeWidth: 1.3 }} allowDataOverflow />
          <ReferenceLine y={1} stroke="#000" strokeWidth={1.3} />
          <ReferenceLine x={100} stroke="#000" strokeWidth={1.3} />
          <Scatter
            data={pts(insetBEarly, insetBEarly2, insetBMid, insetBLate, insetBFill, insetBOutliers)}
            shape={blob(10, VIOLET)}
            isAnimationActive={false}
          />
        </ScatterChart>
      </div>

      {/* ---------- titles and legends, panel a ---------- */}
      <Rotated cx={62} cy={282} size={31} color="#000">Intensidade Normalizada</Rotated>
      <Flat cx={430} cy={551} size={31} color="#000">Tempo de vida / ns</Flat>
      <Rotated cx={250} cy={242} size={21} color="#111">
        Intensidade (Ln(I/I<sub style={{ fontSize: '0.65em' }}>0</sub>))
      </Rotated>
      <Flat cx={472} cy={438} size={21} color="#111">Tempo de vida / ns</Flat>
      <div style={{ position: 'absolute', left: 409, top: 153, width: 10, height: 10, borderRadius: '50%', background: GREEN }} />
      <div style={{ position: 'absolute', left: 437, top: 146, fontFamily: SANS, fontSize: 20, color: '#222', lineHeight: '24px', whiteSpace: 'nowrap' }}>
        CFS, T= 140°C
      </div>

      {/* ---------- titles and legends, panel b ---------- */}
      <Rotated cx={118} cy={858} size={32} color="#333">Intensidade Normalizada</Rotated>
      <Flat cx={490} cy={1128} size={30} color="#222" scaleX={0.85}>Tempo de vida / ns</Flat>
      <Rotated cx={290} cy={845} size={20} color="#333" spacing={2.5} pre>
        {'Intensidade   (Ln(I/I'}<sub style={{ fontSize: '0.65em' }}>0</sub>{'))'}
      </Rotated>
      <Flat cx={523} cy={1014} size={18} color="#333" spacing={2.5}>Tempo de vida / ns</Flat>
      <svg width={12} height={12} style={{ position: 'absolute', left: 447, top: 686 }}>
        {blob(10, VIOLET)({ cx: 6, cy: 6 })}
      </svg>
      <div style={{ position: 'absolute', left: 482, top: 680, fontFamily: SANS, fontSize: 19, color: '#444', letterSpacing: 1, lineHeight: '24px', whiteSpace: 'nowrap' }}>
        CFS, T= 150°C
      </div>

      {/* ---------- panel tags ---------- */}
      <PanelTag left={8} top={13} w={75} h={71} label="a)" />
      <PanelTag left={43} top={599} w={80} h={68} label="b)" />
    </div>
  );
}
